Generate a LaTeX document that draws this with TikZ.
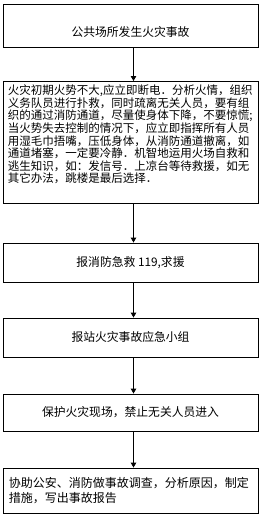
\documentclass[tikz,border=0pt]{standalone}
\usepackage{fontspec}
\setmainfont{Noto Sans CJK SC}
\usetikzlibrary{arrows.meta,positioning}
\tikzset{
  stepbox/.style={draw, line width=0.9pt, minimum width=255pt, inner sep=0pt,
    font=\fontsize{11.8}{14}\selectfont},
  flow/.style={line width=0.9pt, -{Triangle[length=5pt,width=5.5pt]}}
}

\begin{document}
\begin{tikzpicture}[x=1pt, y=-1pt]
  \useasboundingbox (0,0) rectangle (266,517);
  \node[stepbox, minimum height=43pt, text height=23pt] (accident) at (130.5,25.5) {公共场所发生火灾事故};
  \node[stepbox, anchor=north, text width=245pt, align=left, inner xsep=5pt, inner ysep=3.5pt,
    text depth=105pt, font=\fontsize{11.5}{12.6}\selectfont] (response) at (130.5,81)
    {火灾初期火势不大,应立即断电．分析火情，组织\\
     义务队员进行扑救，同时疏离无关人员，要有组\\
     织的通过消防通道，尽量使身体下降，不要惊慌;\\
     当火势失去控制的情况下，应立即指挥所有人员\\
     用湿毛巾捂嘴，压低身体，从消防通道撤离，如\\
     通道堵塞，一定要冷静．机智地运用火场自救和\\
     逃生知识，如：发信号．上凉台等待救援，如无\\
     其它办法，跳楼是最后选择．};
  \node[stepbox, minimum height=39pt] (call) at (130.5,262.5) {报消防急救 119,求援};
  \node[stepbox, minimum height=39pt] (report) at (130.5,337.5) {报站火灾事故应急小组};
  \node[stepbox, minimum height=37pt] (protect) at (130.5,412.5) {保护火灾现场，禁止无关人员进入};
  \node[stepbox, minimum height=45pt, text width=243pt, align=left, inner xsep=6pt,
    font=\fontsize{12}{15}\selectfont] (investigate) at (130.5,490.5)
    {协助公安、消防做事故调查，分析原因，制定\\措施，写出事故报告};
  % connectors between the steps
  \draw[flow] ([xshift=3pt]accident.south) -- ([xshift=3pt]response.north);
  \draw[flow] ([xshift=3pt]response.south) -- ([xshift=3pt]call.north);
  \draw[flow] ([xshift=3pt]call.south) -- ([xshift=3pt]report.north);
  \draw[flow] ([xshift=3pt]report.south) -- ([xshift=3pt]protect.north);
  \draw[flow] ([xshift=3pt]protect.south) -- ([xshift=3pt]investigate.north);
\end{tikzpicture}
\end{document}
